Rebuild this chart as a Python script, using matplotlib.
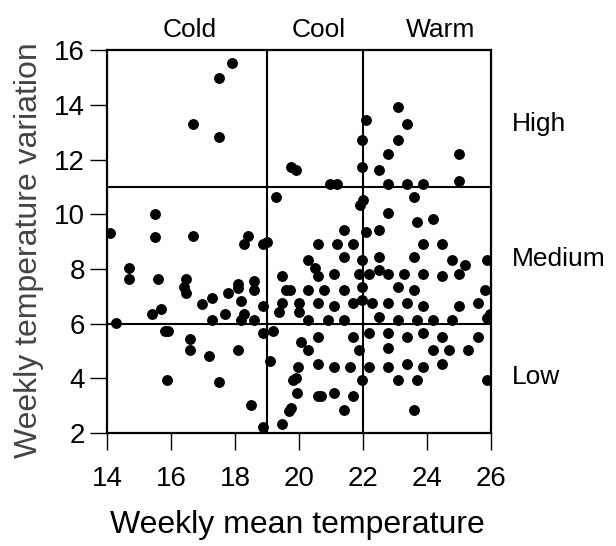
import numpy as np
import matplotlib
matplotlib.use('Agg')
import matplotlib.pyplot as plt

plt.rcParams['font.family'] = ['Liberation Sans', 'DejaVu Sans']

# weekly mean temperature / weekly temperature variation
mean_temp = [
    17.89, 17.49, 16.69, 17.49, 19.76, 19.90, 19.29, 15.49, 14.08, 15.49,
    16.69, 18.39, 19.00, 18.88, 18.27,
    23.08, 22.08, 23.38, 21.98, 23.08, 22.78, 24.99, 21.98, 22.49, 20.98,
    21.19, 22.78, 23.38, 23.88, 24.99, 23.58, 22.00, 21.90, 22.78, 23.68,
    24.18, 21.40, 22.08, 22.49,
    14.69, 14.69, 15.59, 16.48, 16.40, 16.48, 16.98, 17.29, 17.78, 18.08,
    18.08, 18.58, 18.58, 18.19, 18.88, 19.48, 19.58, 19.71, 19.48, 19.38,
    20.00, 20.00, 15.39, 15.69, 14.29, 17.29, 17.68, 18.27, 18.19, 18.58,
    15.80, 15.90, 16.58, 16.58, 17.19, 18.08, 18.88, 19.19, 19.08, 15.88,
    17.49, 18.49, 18.88, 19.48, 19.76, 19.69, 19.81, 19.90, 19.92, 19.97,
    20.05,
    20.59, 21.19, 21.69, 23.88, 24.48, 21.40, 21.98, 22.49, 23.58, 24.78,
    25.19, 25.88, 20.29, 20.49, 20.59, 21.08, 21.88, 22.19, 22.49, 22.78,
    23.27, 23.88, 24.48, 24.99, 20.29, 20.78, 21.40, 21.98, 23.08, 23.58,
    25.80, 20.59, 21.08, 21.69, 21.98, 22.29, 22.78, 23.38, 23.88, 24.99,
    25.59, 25.98, 25.88, 20.29, 20.89, 21.40, 22.49, 23.08, 23.68, 24.19,
    24.78, 20.59, 21.69, 20.29, 22.19, 22.78, 23.38, 23.88, 24.48, 25.59,
    21.88, 22.78, 24.19, 24.69, 25.28, 20.59, 21.08, 21.58, 22.19, 22.78,
    23.38, 23.88, 24.48, 21.98, 23.08, 23.68, 25.88, 20.59, 20.70, 21.08,
    21.69, 21.40, 23.58,
]
temp_var = [
    15.52, 15.00, 13.31, 12.81, 11.74, 11.63, 10.62, 10.01, 9.32, 9.17,
    9.22, 9.22, 9.00, 8.92, 8.92,
    13.91, 13.43, 13.30, 12.72, 12.72, 12.20, 12.20, 11.72, 11.62, 11.11,
    11.11, 11.11, 11.11, 11.11, 11.23, 10.62, 10.54, 10.34, 10.04, 9.73,
    9.83, 9.41, 9.35, 9.41,
    8.04, 7.62, 7.62, 7.62, 7.34, 7.13, 6.72, 6.92, 7.13, 7.44,
    7.32, 7.55, 7.22, 6.83, 6.64, 7.75, 7.22, 7.22, 6.74, 6.43,
    6.74, 6.43, 6.34, 6.53, 6.04, 6.15, 6.34, 6.34, 6.15, 6.15,
    5.73, 5.73, 5.44, 5.04, 4.83, 5.04, 5.64, 5.73, 4.63, 3.93,
    3.85, 3.03, 2.23, 2.33, 2.91, 2.81, 3.94, 4.00, 3.46, 4.43,
    5.32,
    8.92, 8.92, 8.92, 8.92, 8.92, 8.44, 8.31, 8.44, 8.44, 8.31,
    8.13, 8.31, 8.31, 8.04, 7.75, 7.83, 7.83, 7.83, 7.95, 7.83,
    7.83, 7.83, 7.75, 7.83, 7.22, 7.22, 7.22, 7.34, 7.34, 7.22,
    7.22, 6.74, 6.64, 6.74, 6.86, 6.74, 6.74, 6.74, 6.64, 6.64,
    6.74, 6.37, 6.19, 6.15, 6.15, 6.15, 6.23, 6.15, 6.15, 6.15,
    6.15, 5.52, 5.52, 5.04, 5.64, 5.64, 5.52, 5.64, 5.52, 5.52,
    5.04, 5.12, 5.04, 5.04, 5.04, 4.52, 4.43, 4.43, 4.43, 4.43,
    4.52, 4.43, 4.52, 3.92, 3.92, 3.92, 3.92, 3.34, 3.34, 3.46,
    3.34, 2.85, 2.85,
]

x_cuts = [19, 22]
y_cuts = [6, 11]
col_labels = ['Cold', 'Cool', 'Warm']
col_pos = [16.57, 20.6, 24.42]
row_labels = ['High', 'Medium', 'Low']
row_pos = [13.04, 8.12, 3.80]

fig = plt.figure(figsize=(6.16, 5.46), dpi=100)
ax = fig.add_axes([0.174, 0.207, 0.623, 0.701])

ax.plot(mean_temp, temp_var, 'o', color='black', markersize=6.8, zorder=3)

for xc in x_cuts:
    ax.axvline(xc, color='black', lw=1.5)
for yc in y_cuts:
    ax.axhline(yc, color='black', lw=1.5)

ax.set_xlim(14, 26)
ax.set_ylim(2, 16)
ax.set_xticks(np.arange(14, 27, 2))
ax.set_yticks(np.arange(2, 17, 2))
ax.tick_params(labelsize=20, width=1.0, direction='out')
ax.tick_params(axis='x', length=12, pad=11.5)
ax.tick_params(axis='y', length=12.5, pad=3.5)
for s in ax.spines.values():
    s.set_linewidth(1.6)

ax.set_xlabel('Weekly mean temperature', fontsize=23, va='baseline')
ax.xaxis.set_label_coords(0.495, -0.261)
ax.set_ylabel('Weekly temperature variation', fontsize=23, va='baseline',
              color='#444444')
ax.yaxis.set_label_coords(-0.183, 0.478)

for lab, xp in zip(col_labels, col_pos):
    ax.text(xp, 1.034, lab, transform=ax.get_xaxis_transform(),
            ha='center', va='baseline', fontsize=19)
for lab, yp in zip(row_labels, row_pos):
    ax.text(1.054, yp, lab, transform=ax.get_yaxis_transform(),
            ha='left', va='baseline', fontsize=19)

plt.savefig('out.png', dpi=100)
